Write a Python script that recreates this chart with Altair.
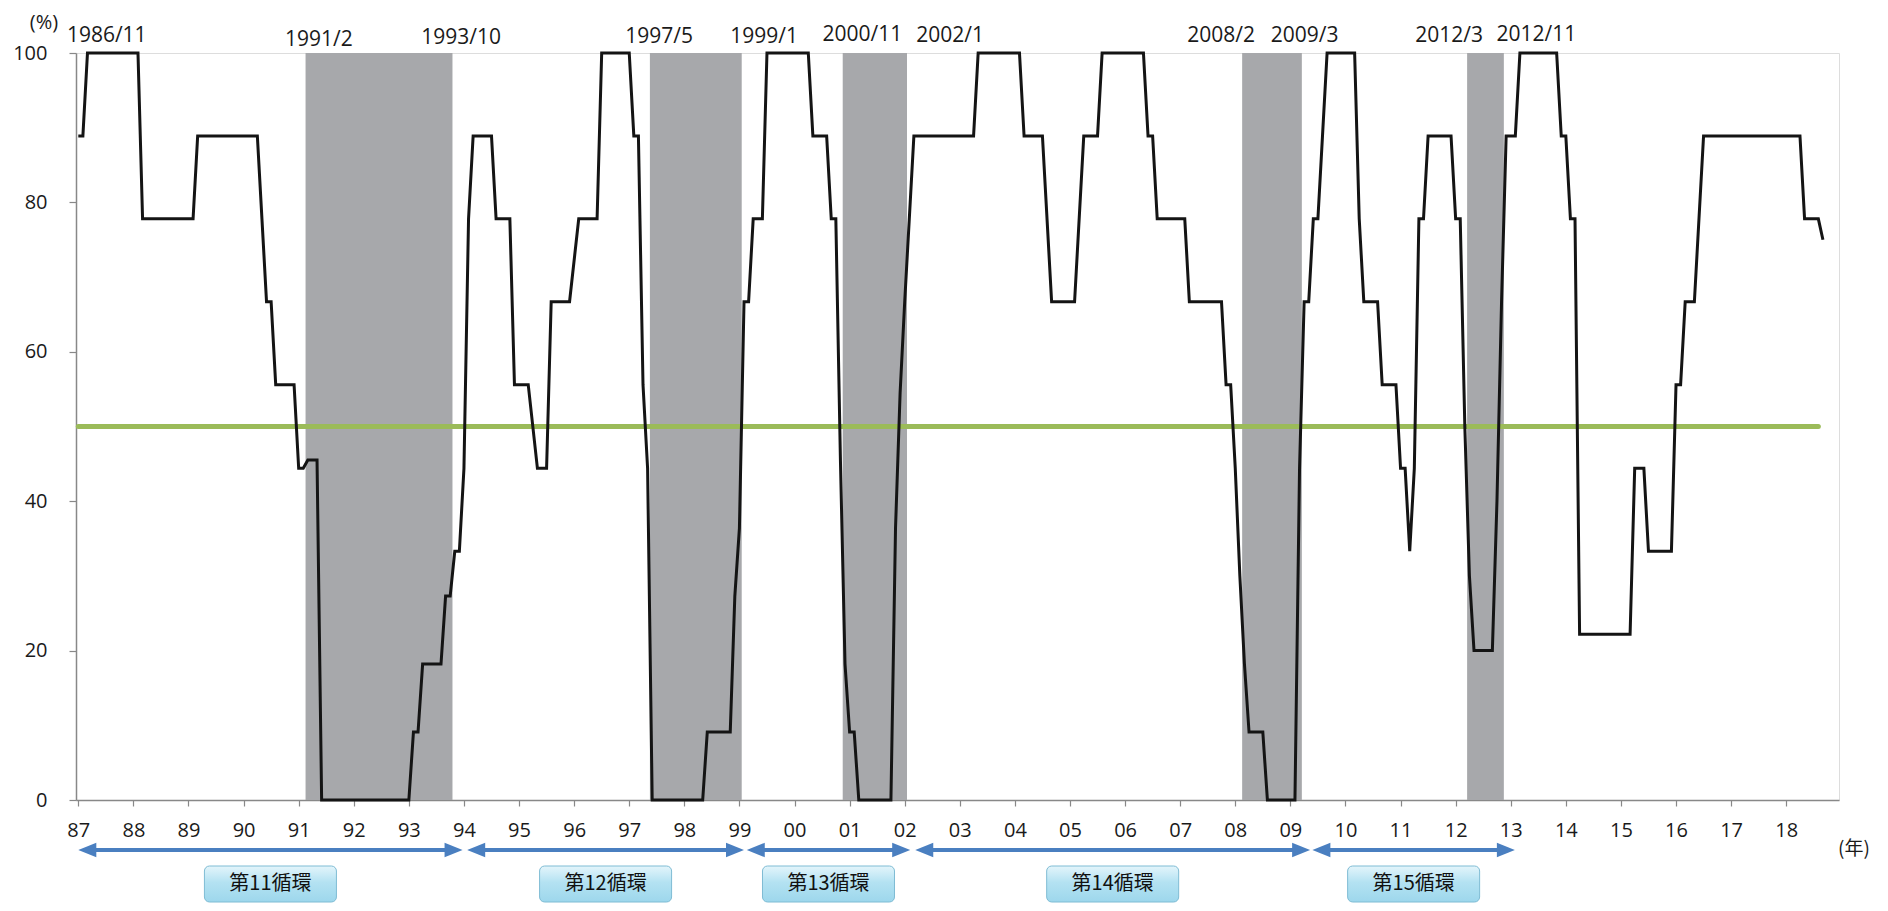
import altair as alt
import pandas as pd

# ---------------- data ----------------
# vertices of the diffusion-index line (year/month, %)
dates = [
    "1987/1", "1987/2", "1987/3", "1988/2", "1988/3", "1989/2", "1989/3", "1990/4", "1990/5", "1990/6",
    "1990/7", "1990/8", "1990/12", "1991/1", "1991/2", "1991/3", "1991/5", "1991/6", "1993/1", "1993/2",
    "1993/3", "1993/4", "1993/8", "1993/9", "1993/10", "1993/11", "1993/12", "1994/1", "1994/2", "1994/3",
    "1994/7", "1994/8", "1994/11", "1994/12", "1995/3", "1995/5", "1995/7", "1995/8", "1995/12",
    "1996/2", "1996/6", "1996/7", "1997/1", "1997/2", "1997/3", "1997/4", "1997/5", "1997/6", "1998/5",
    "1998/6", "1998/11", "1998/12", "1999/1", "1999/2", "1999/3", "1999/4", "1999/6", "1999/7", "2000/4",
    "2000/5", "2000/8", "2000/9", "2000/10", "2000/11", "2000/12", "2001/1", "2001/2", "2001/3", "2001/10",
    "2001/11", "2001/12", "2002/1", "2002/2", "2002/3", "2003/4", "2003/5", "2004/2", "2004/3", "2004/7",
    "2004/9", "2005/2", "2005/3", "2005/4", "2005/7", "2005/8", "2006/5", "2006/6", "2006/7", "2006/8",
    "2007/2", "2007/3", "2007/10", "2007/11", "2007/12", "2008/1", "2008/2", "2008/3", "2008/4", "2008/7",
    "2008/8", "2009/2", "2009/3", "2009/4", "2009/5", "2009/6", "2009/7", "2009/8", "2009/9", "2010/3",
    "2010/4", "2010/5", "2010/8", "2010/9", "2010/12", "2011/1", "2011/2", "2011/3", "2011/4", "2011/5",
    "2011/6", "2011/7", "2011/12", "2012/1", "2012/2", "2012/3", "2012/4", "2012/5", "2012/9", "2012/10",
    "2012/11", "2012/12", "2013/2", "2013/3", "2013/11", "2013/12", "2014/1", "2014/2", "2014/3", "2014/4",
    "2015/3", "2015/4", "2015/6", "2015/7", "2015/12", "2016/1", "2016/2", "2016/3", "2016/5", "2016/7",
    "2018/4", "2018/5", "2018/8", "2018/9",
]
values = [
    88.9, 88.9, 100.0, 100.0, 77.8, 77.8, 88.9, 88.9, 77.8, 66.7,
    66.7, 55.6, 55.6, 44.4, 44.4, 45.5, 45.5, 0.0, 0.0, 9.1,
    9.1, 18.2, 18.2, 27.3, 27.3, 33.3, 33.3, 44.4, 77.8, 88.9,
    88.9, 77.8, 77.8, 55.6, 55.6, 44.4, 44.4, 66.7, 66.7,
    77.8, 77.8, 100.0, 100.0, 88.9, 88.9, 55.6, 44.4, 0.0, 0.0,
    9.1, 9.1, 27.3, 36.4, 66.7, 66.7, 77.8, 77.8, 100.0, 100.0,
    88.9, 88.9, 77.8, 77.8, 45.5, 18.2, 9.1, 9.1, 0.0, 0.0,
    36.4, 54.5, 66.7, 77.8, 88.9, 88.9, 100.0, 100.0, 88.9, 88.9,
    66.7, 66.7, 77.8, 88.9, 88.9, 100.0, 100.0, 88.9, 88.9, 77.8,
    77.8, 66.7, 66.7, 55.6, 55.6, 44.4, 30.0, 18.2, 9.1, 9.1,
    0.0, 0.0, 44.4, 66.7, 66.7, 77.8, 77.8, 88.9, 100.0, 100.0,
    77.8, 66.7, 66.7, 55.6, 55.6, 44.4, 44.4, 33.3, 44.4, 77.8,
    77.8, 88.9, 88.9, 77.8, 77.8, 50.0, 30.0, 20.0, 20.0, 40.0,
    66.7, 88.9, 88.9, 100.0, 100.0, 88.9, 88.9, 77.8, 77.8, 22.2,
    22.2, 44.4, 44.4, 33.3, 33.3, 55.6, 55.6, 66.7, 66.7, 88.9,
    88.9, 77.8, 77.8, 75.0,
]

# business-cycle peaks and troughs (recession shading)
peaks = ["1991/2", "1997/5", "2000/11", "2008/2", "2012/3"]
troughs = ["1993/10", "1999/1", "2002/1", "2009/3", "2012/11"]

# labels written above the plot
top_labels = ["1986/11", "1991/2", "1993/10", "1997/5", "1999/1", "2000/11",
              "2002/1", "2008/2", "2009/3", "2012/3", "2012/11"]

# 50% reference line span
ref_value = 50
ref_span = ["1987/1", "2018/8"]

# business cycles (arrows)
cycle_names = ["第11循環", "第12循環", "第13循環", "第14循環", "第15循環"]

# ---------------- layout (pixel / placement settings) ----------------
W, H = 1763, 747
PX_PER_MONTH = W / 384.0
top_label_pos = [6.2, 52.4, 83.4, 126.5, 149.4, 170.8, 189.9, 248.9, 267.1, 298.6, 317.6]
top_label_y = [-17, -13, -15, -16, -16, -18, -17, -17, -17, -17, -18]
arrow_from = [0.0, 84.7, 145.6, 182.3, 268.8]
arrow_to = [83.7, 145.0, 181.2, 268.3, 312.9]
ARROW_Y = 797
HEAD_PX = 18
BOX_HALF_PX = 66
BOX_Y0, BOX_Y1 = 813, 849

FONT = "Open Sans"
JFONT = "Noto Sans CJK JP"
TEXT = "#1a1a1a"
AXISC = "#888888"
BLUE = "#4a7fc0"


def mi(s):
    y, m = s.split("/")
    return (int(y) - 1987) * 12 + int(m) - 1


X = alt.Scale(domain=[-0.5, 383.5], nice=False, zero=False)
Y = alt.Scale(domain=[0, 100], nice=False, zero=False)

XAXIS = alt.Axis(values=list(range(0, 384, 12)),
                 labelExpr="substring(toString(1987 + datum.value / 12), 2, 4)",
                 tickSize=6, labelPadding=14, labelFontSize=20, labelFont=FONT,
                 labelColor=TEXT, domainColor=AXISC, tickColor=AXISC, domainWidth=1.5,
                 tickWidth=1.2, labelFlush=False, labelOverlap=False, grid=False, title=None)
YAXIS = alt.Axis(values=[0, 20, 40, 60, 80, 100], tickSize=7, labelPadding=22,
                 labelFontSize=20, labelFont=FONT, labelColor=TEXT, tickWidth=1.2,
                 domainColor=AXISC, tickColor=AXISC, domainWidth=1.5, grid=False, title=None)

series = pd.DataFrame({"k": [mi(d) for d in dates], "v": values})
rec = pd.DataFrame({"k": [mi(p) + 0.5 for p in peaks], "k2": [mi(t) + 0.5 for t in troughs]})
ref = pd.DataFrame({"k": [mi(ref_span[0])], "k2": [mi(ref_span[1])], "v": [ref_value]})
tops = pd.DataFrame({"label": top_labels, "k": top_label_pos, "ly": top_label_y})

head_m = HEAD_PX / PX_PER_MONTH
box_m = BOX_HALF_PX / PX_PER_MONTH
cyc = pd.DataFrame({"name": cycle_names, "a0": arrow_from, "a1": arrow_to})
cyc["r0"] = cyc["a0"] + head_m * 0.8
cyc["r1"] = cyc["a1"] - head_m * 0.8
cyc["mid"] = (cyc["a0"] + cyc["a1"]) / 2
cyc["b0"] = cyc["mid"] - box_m
cyc["b1"] = cyc["mid"] + box_m


def xq(field):
    return alt.X(f"{field}:Q", scale=X, axis=XAXIS)


shade = alt.Chart(rec).mark_rect(color="#a7a8ab").encode(
    x=xq("k"), x2="k2:Q", y=alt.value(0), y2=alt.value(H),
)

green = alt.Chart(ref).mark_rule(color="#9bbb59", strokeWidth=5, strokeCap="round").encode(
    x=xq("k"), x2="k2:Q", y=alt.Y("v:Q", scale=Y, axis=YAXIS),
)

line = alt.Chart(series).mark_line(color="#141414", strokeWidth=3, strokeJoin="miter").encode(
    x=xq("k"), y=alt.Y("v:Q", scale=Y, axis=YAXIS),
)

top_text = alt.Chart(tops).mark_text(font=FONT, fontSize=21, color=TEXT, baseline="middle").encode(
    x=xq("k"), y=alt.Y("ly:Q", scale=None), text="label:N",
)

arrow_line = alt.Chart(cyc).mark_rule(color=BLUE, strokeWidth=4).encode(
    x=xq("r0"), x2="r1:Q", y=alt.value(ARROW_Y),
)
head_l = alt.Chart(cyc).mark_point(shape="M0,0L2,-0.8L2,0.8Z", filled=True, color=BLUE,
                                   opacity=1, size=324, strokeWidth=0).encode(
    x=xq("a0"), y=alt.value(ARROW_Y),
)
head_r = alt.Chart(cyc).mark_point(shape="M0,0L-2,-0.8L-2,0.8Z", filled=True, color=BLUE,
                                   opacity=1, size=324, strokeWidth=0).encode(
    x=xq("a1"), y=alt.value(ARROW_Y),
)

box = alt.Chart(cyc).mark_rect(
    cornerRadius=5,
    fill=alt.Gradient(gradient="linear", x1=0, y1=0, x2=0, y2=1,
                      stops=[alt.GradientStop(color="#e4f5fb", offset=0),
                             alt.GradientStop(color="#b4e2f2", offset=0.45),
                             alt.GradientStop(color="#9dd7ec", offset=1)]),
    stroke="#7fbcd4", strokeWidth=1,
).encode(
    x=xq("b0"), x2="b1:Q", y=alt.value(BOX_Y0), y2=alt.value(BOX_Y1),
)
box_text = alt.Chart(cyc).mark_text(font=JFONT, fontSize=20, color="#111111", baseline="middle").encode(
    x=xq("mid"), y=alt.value((BOX_Y0 + BOX_Y1) / 2), text="name:N",
)

pct = alt.Chart(pd.DataFrame({"t": ["(%)"]})).mark_text(
    font=FONT, fontSize=20, color=TEXT, baseline="middle").encode(
    x=alt.value(-32), y=alt.value(-30), text="t:N")
nen = alt.Chart(pd.DataFrame({"t": ["(年)"]})).mark_text(
    font=JFONT, fontSize=19, color=TEXT, baseline="middle").encode(
    x=alt.value(1778), y=alt.value(796), text="t:N")

chart = alt.layer(
    shade, green, line, top_text, arrow_line, head_l, head_r, box, box_text, pct, nen
).properties(
    width=W, height=H,
    autosize=alt.AutoSizeParams(type="none"),
    padding={"left": 68, "top": 45, "right": 41, "bottom": 103},
).configure_view(
    stroke=AXISC, strokeWidth=1.5
).configure(background="white")

chart.save("out.html", embed_options={"renderer": "svg", "actions": False})
